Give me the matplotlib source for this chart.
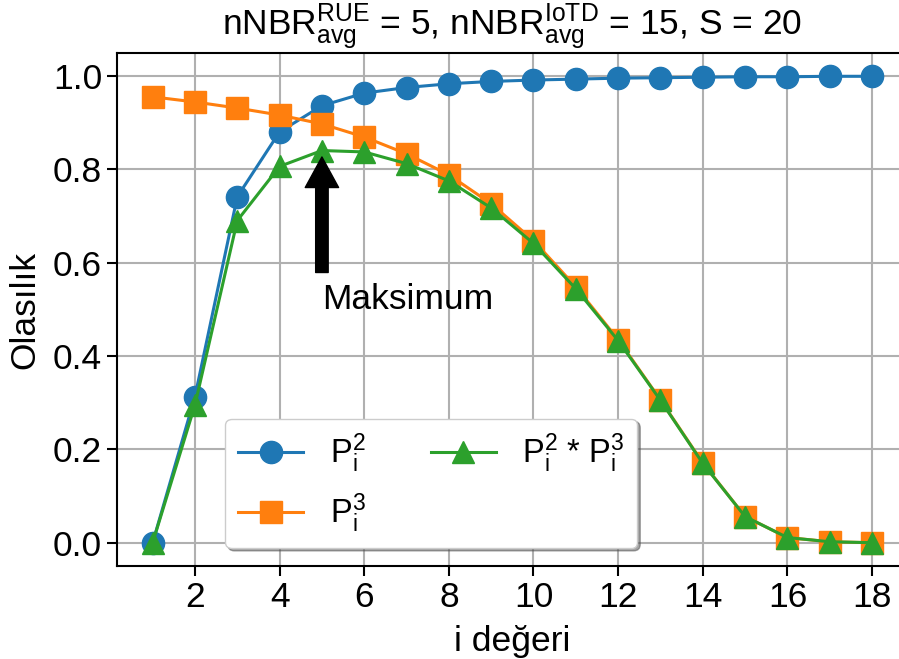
import numpy as np
import matplotlib
matplotlib.use("Agg")
import matplotlib.pyplot as plt

plt.rcParams['font.family'] = ['Liberation Sans', 'DejaVu Sans']
plt.rcParams['mathtext.default'] = 'regular'

# values
i_vals = [1, 2, 3, 4, 5, 6, 7, 8, 9, 10, 11, 12, 13, 14, 15, 16, 17, 18]
p2 = [0.0, 0.313, 0.741, 0.880, 0.936, 0.963, 0.975, 0.983, 0.988, 0.991,
      0.993, 0.995, 0.996, 0.997, 0.998, 0.998, 0.999, 0.999]
p3 = [0.955, 0.944, 0.931, 0.916, 0.897, 0.869, 0.833, 0.788, 0.726, 0.647,
      0.548, 0.435, 0.306, 0.171, 0.056, 0.011, 0.002, 0.0]
p23 = [0.0, 0.295, 0.690, 0.806, 0.840, 0.837, 0.812, 0.775, 0.717, 0.641,
       0.544, 0.433, 0.305, 0.170, 0.056, 0.011, 0.002, 0.0]

fs = 25.5
fig = plt.figure(figsize=(8.99, 6.59), dpi=100)
ax = fig.add_axes([0.1298, 0.1411, 0.8802, 0.7785])

ax.plot(i_vals, p2, '-o', color='#1f77b4', lw=2.2, ms=16, label=r'$P_i^2$')
ax.plot(i_vals, p3, '-s', color='#ff7f0e', lw=2.2, ms=16, label=r'$P_i^3$')
ax.plot(i_vals, p23, '-^', color='#2ca02c', lw=2.2, ms=16, label=r'$P_i^2$ * $P_i^3$')

ax.annotate('', xy=(5, 0.84), xytext=(5, 0.565),
            arrowprops=dict(facecolor='black', edgecolor='black', width=9,
                            headwidth=24, headlength=22, shrink=0.05))
ax.text(5, 0.5, 'Maksimum', fontsize=fs)

ax.set_xticks([2, 4, 6, 8, 10, 12, 14, 16, 18])
ax.set_yticks([0.0, 0.2, 0.4, 0.6, 0.8, 1.0])
ax.tick_params(labelsize=fs, length=7, width=1.5)
for s in ax.spines.values():
    s.set_linewidth(1.5)
ax.grid(True, color='#b0b0b0', lw=1.5)
ax.set_axisbelow(True)

ax.set_xlabel('i değeri', fontsize=fs, labelpad=8)
ax.set_ylabel('Olasılık', fontsize=fs, labelpad=8)
ax.set_title(r'nNBR$_{avg}^{RUE}$ = 5, nNBR$_{avg}^{IoTD}$ = 15, S = 20', fontsize=fs)

ax.legend(loc='lower left', bbox_to_anchor=(0.137, 0.035), borderaxespad=0,
          ncol=2, fontsize=23.5, shadow=True)

fig.savefig('out.png', dpi=100)
